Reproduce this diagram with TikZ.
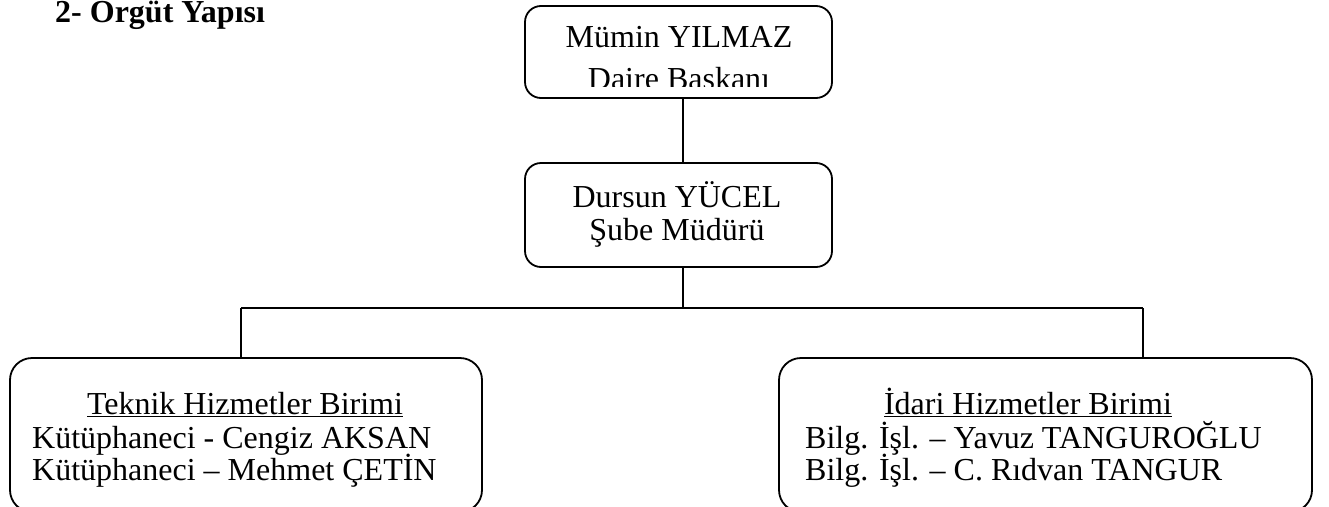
\documentclass[tikz,border=0pt]{standalone}
\usepackage{fontspec}
\setmainfont{Liberation Serif}
\begin{document}
\begin{tikzpicture}[x=1pt,y=-1pt,
  box/.style={draw,line width=1.8pt,rounded corners=16pt,inner sep=0pt},
  bigbox/.style={draw,line width=1.8pt,rounded corners=22pt,inner sep=0pt},
  txt/.style={inner sep=0pt,anchor=base,font=\fontsize{32}{34}\selectfont},
  txtw/.style={inner sep=0pt,anchor=base west,font=\fontsize{32}{34}\selectfont},
  conn/.style={line width=1.8pt}]
\clip (0,0) rectangle (1329,506);
\path[use as bounding box] (0,0) rectangle (1329,506);
% title
\node[txtw,font=\fontsize{32}{34}\selectfont\bfseries] (title) at (55,22) {2- Örgüt Yapısı};
% boxes
\node[box,minimum width=307pt,minimum height=92pt] (top) at (678.5,52) {};
\node[box,minimum width=307pt,minimum height=104pt] (mid) at (678.5,215) {};
\node[bigbox,minimum width=472pt,minimum height=154pt] (left) at (246,435) {};
\node[bigbox,minimum width=533pt,minimum height=154pt] (right) at (1045.5,435) {};
% texts
\node[txt] (t1) at (679,47) {Mümin YILMAZ};
\begin{scope}
\clip (500,0) rectangle (860,86.5);
\node[txt] (t2) at (679,89) {Daire Baskanı};
\end{scope}
\node[txt] (m1) at (677,207) {Dursun YÜCEL};
\node[txt] (m2) at (677,240) {Şube Müdürü};
\node[txt] (l1) at (245,414) {\underline{Teknik Hizmetler Birimi}};
\node[txtw] (l2) at (32,448) {Kütüphaneci - Cengiz AKSAN};
\node[txtw] (l3) at (32,480) {Kütüphaneci – Mehmet ÇETİN};
\node[txt] (r1) at (1028,414) {\underline{İdari Hizmetler Birimi}};
\node[txtw] (r2) at (805,448) {Bilg. İşl. – Yavuz TANGUROĞLU};
\node[txtw] (r3) at (805,480) {Bilg. İşl. – C. Rıdvan TANGUR};
% connectors
\coordinate (sp) at (683,308);
\coordinate (jl) at (241,308);
\coordinate (jr) at (1143,308);
\draw[conn] (top.south -| sp) -- (mid.north -| sp);
\draw[conn] (mid.south -| sp) -- (sp);
\draw[conn] (jl) -- (jr);
\draw[conn] (jl) -- (jl |- left.north);
\draw[conn] (jr) -- (jr |- right.north);
\end{tikzpicture}
\end{document}
